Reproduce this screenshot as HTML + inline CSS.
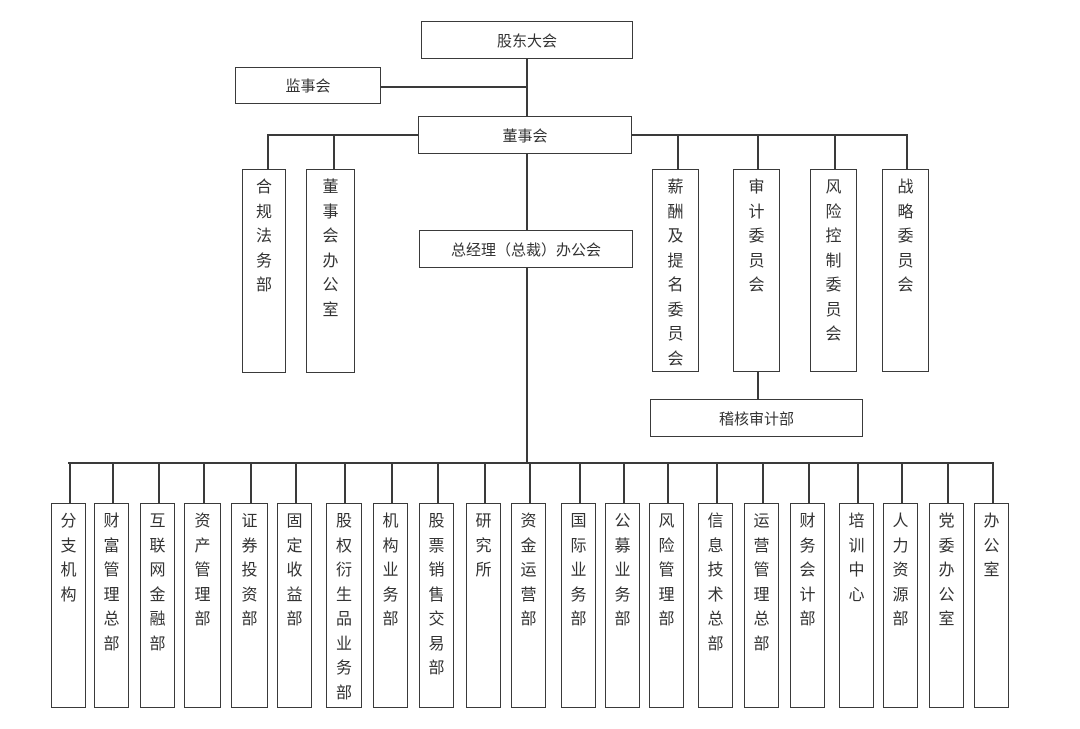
<!DOCTYPE html>
<html><head><meta charset="utf-8"><style>
body{margin:0;width:1080px;height:729px;background:#fff;position:relative;overflow:hidden;font-family:"Liberation Sans","Noto Sans CJK SC",sans-serif;color:#333}
.b{position:absolute;border:1.5px solid #3a3a3a;box-sizing:border-box;background:#fff}
.h{display:flex;align-items:center;justify-content:center;font-size:15px}
.v{font-size:16px;line-height:24.5px;text-align:center}
.v span{display:block;width:16px;margin:0 auto;word-break:break-all;padding-top:6px}
.l{position:absolute;background:#3a3a3a}
</style></head><body>
<!-- lines -->
<div class="l" style="left:526px;top:59px;width:1.5px;height:404px"></div>
<div class="l" style="left:381px;top:86px;width:146px;height:1.5px"></div>
<div class="l" style="left:267px;top:134px;width:152px;height:1.5px"></div>
<div class="l" style="left:632px;top:134px;width:275px;height:1.5px"></div>
<div class="l" style="left:267px;top:134px;width:1.5px;height:35px"></div>
<div class="l" style="left:333px;top:134px;width:1.5px;height:35px"></div>
<div class="l" style="left:677px;top:134px;width:1.5px;height:35px"></div>
<div class="l" style="left:757px;top:134px;width:1.5px;height:35px"></div>
<div class="l" style="left:834px;top:134px;width:1.5px;height:35px"></div>
<div class="l" style="left:906px;top:134px;width:1.5px;height:35px"></div>
<div class="l" style="left:757px;top:372px;width:1.5px;height:27px"></div>
<div class="l" style="left:68px;top:462px;width:924px;height:1.5px"></div>

<div class="b h" style="left:421px;top:21px;width:212px;height:38px">股东大会</div>
<div class="b h" style="left:235px;top:67px;width:146px;height:37px">监事会</div>
<div class="b h" style="left:418px;top:116px;width:214px;height:38px">董事会</div>
<div class="b h" style="left:419px;top:230px;width:214px;height:38px">总经理（总裁）办公会</div>
<div class="b h" style="left:650px;top:399px;width:213px;height:38px">稽核审计部</div>

<div class="b v" style="left:242px;top:169px;width:44px;height:204px"><span>合规法务部</span></div>
<div class="b v" style="left:306px;top:169px;width:49px;height:204px"><span>董事会办公室</span></div>
<div class="b v" style="left:652px;top:169px;width:47px;height:203px"><span>薪酬及提名委员会</span></div>
<div class="b v" style="left:733px;top:169px;width:47px;height:203px"><span>审计委员会</span></div>
<div class="b v" style="left:810px;top:169px;width:47px;height:203px"><span>风险控制委员会</span></div>
<div class="b v" style="left:882px;top:169px;width:47px;height:203px"><span>战略委员会</span></div>

<div id="bot"></div>
<script>
var d=[[51,86,"分支机构"],[94,129,"财富管理总部"],[140,175,"互联网金融部"],[184,221,"资产管理部"],[231,268,"证券投资部"],[277,312,"固定收益部"],[326,362,"股权衍生品业务部"],[373,408,"机构业务部"],[419,454,"股票销售交易部"],[466,501,"研究所"],[511,546,"资金运营部"],[561,596,"国际业务部"],[605,640,"公募业务部"],[649,684,"风险管理部"],[698,733,"信息技术总部"],[744,779,"运营管理总部"],[790,825,"财务会计部"],[839,874,"培训中心"],[883,918,"人力资源部"],[929,964,"党委办公室"],[974,1009,"办公室"]];
var h="";
d.forEach(function(e){var c=Math.round((e[0]+e[1])/2);
h+='<div class="l" style="left:'+c+'px;top:462px;width:1.5px;height:41px"></div>';
h+='<div class="b v" style="left:'+e[0]+'px;top:503px;width:'+(e[1]-e[0])+'px;height:205px"><span>'+e[2]+'</span></div>';});
document.getElementById("bot").innerHTML=h;
</script>
</body></html>
